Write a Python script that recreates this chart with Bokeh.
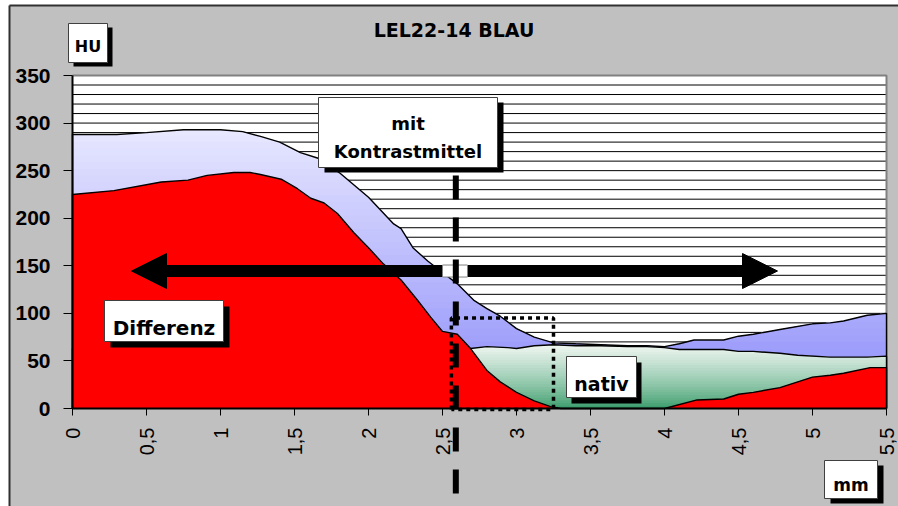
import math
import numpy as np
from bokeh.plotting import figure
from bokeh.models import Range1d, FixedTicker, CustomJSTickFormatter, Label
from bokeh.embed import file_html
from bokeh.resources import INLINE

# Profile along the vessel: distance (mm) and Hounsfield units
mit_mm = [0, 0.3, 0.5, 0.75, 1.0, 1.15, 1.27, 1.4, 1.54, 1.66,
          1.81, 2.0, 2.17, 2.22, 2.3, 2.4, 2.5, 2.6, 2.71, 2.8,
          2.89, 3.0, 3.12, 3.25, 3.4, 3.57, 3.75, 3.88, 4.0, 4.1,
          4.2, 4.4, 4.5, 4.6, 4.78, 5.0, 5.12, 5.21, 5.37, 5.5]
mit_hu = [288, 288, 290, 293, 293, 291, 286, 280, 269, 263,
          247, 222, 194, 189, 169, 155, 143, 131, 114, 105,
          97, 84, 75, 69, 68, 67, 66, 66, 65, 68,
          72, 72, 76, 78, 83, 89, 90, 92, 98, 100]

nativ_mm = [0, 0.5, 1.0, 1.5, 2.0, 2.5, 2.69, 2.8, 2.94, 3.0,
            3.12, 3.25, 3.4, 3.57, 3.75, 3.88, 4.0, 4.1, 4.4, 4.5,
            4.6, 4.78, 4.9, 5.12, 5.37, 5.5]
nativ_hu = [63, 52, 48, 38, 53, 62, 63, 65, 64, 63,
            66, 67, 66, 66, 65, 65, 64, 62, 62, 60,
            60, 58, 56, 54, 54, 55]

diff_mm = [0, 0.28, 0.6, 0.78, 0.91, 1.09, 1.2, 1.27, 1.41, 1.52,
           1.61, 1.70, 1.79, 1.90, 2.0, 2.1, 2.22, 2.33, 2.42, 2.5,
           2.6, 2.69, 2.8, 2.89, 3.0, 3.12, 3.23, 3.3, 4.0, 4.22,
           4.4, 4.5, 4.6, 4.78, 5.0, 5.12, 5.21, 5.39, 5.5]
diff_hu = [225, 229, 238, 240, 245, 248, 248, 246, 241, 231,
           221, 216, 205, 185, 169, 152, 135, 114, 96, 81,
           78, 63, 40, 28, 17, 8, 2, 0, 0, 9,
           10, 15, 17, 22, 33, 35, 37, 43, 43]

x_ticks = [0, 0.5, 1, 1.5, 2, 2.5, 3, 3.5, 4, 4.5, 5, 5.5]
y_ticks = [0, 50, 100, 150, 200, 250, 300, 350]
grid_hu = list(range(10, 350, 10))

# window region marked on the profile
window_mm = (2.56, 3.25)
window_hu = (-1, 95)
marker_mm = 2.59
arrow_hu = 144.5

# canvas geometry: pixel <-> data
W, H = 898, 506
X0, PX_MM = 72, 148.0
Y0, PX_HU = 408, 333 / 350


def mx(px):
    return (px - X0) / PX_MM


def hy(py):
    return (Y0 - py) / PX_HU


def refine(xs, ys, levels):
    """Add the points where the polyline crosses each level."""
    ox, oy = [xs[0]], [ys[0]]
    for i in range(len(xs) - 1):
        x0, y0, x1, y1 = xs[i], ys[i], xs[i + 1], ys[i + 1]
        cuts = []
        for lv in levels:
            if (y0 - lv) * (y1 - lv) < 0:
                t = (lv - y0) / (y1 - y0)
                cuts.append((t, x0 + t * (x1 - x0), lv))
        cuts.sort()
        for _, cx, cy in cuts:
            ox.append(cx)
            oy.append(cy)
        ox.append(x1)
        oy.append(y1)
    return np.array(ox, float), np.array(oy, float)


def mix(c0, c1, t):
    return "#%02x%02x%02x" % tuple(int(round(a + (b - a) * t)) for a, b in zip(c0, c1))


def gradient_area(p, xs, ys, top, n, c_bottom, c_top, gamma=1.0):
    levels = np.linspace(0, top, n + 1)
    rx, ry = refine(xs, ys, levels[1:-1])
    for k in range(n - 1, -1, -1):
        hi = levels[k + 1]
        t = ((k + 0.5) / n) ** gamma
        p.varea(x=rx, y1=np.zeros_like(ry), y2=np.minimum(ry, hi),
                fill_color=mix(c_bottom, c_top, t), fill_alpha=1.0)


def outline(p, xs, ys):
    lx = [xs[0]] + list(xs) + [xs[-1]]
    ly = [0] + list(ys) + [0]
    p.line(lx, ly, line_color="black", line_width=1.4)


p = figure(width=W, height=H,
           x_range=Range1d(mx(0), mx(W)), y_range=Range1d(hy(H), hy(0)),
           output_backend="svg", toolbar_location=None, min_border=0,
           background_fill_color="white", border_fill_color="white",
           outline_line_color=None)
p.grid.visible = False

# gray chart panel with dark frame
p.quad(left=mx(9), right=mx(W + 5), bottom=hy(H + 5), top=hy(5),
       fill_color="#c0c0c0", line_color=None)
p.line([mx(9), mx(W + 5)], [hy(5), hy(5)], line_color="#303030", line_width=2)
p.line([mx(9), mx(9)], [hy(5), hy(H + 5)], line_color="#303030", line_width=2)

# plot area and horizontal grid
p.quad(left=0, right=5.5, bottom=0, top=350, fill_color="white", line_color=None)
p.segment(x0=0, y0=grid_hu, x1=5.5, y1=grid_hu, line_color="black", line_width=1)
p.line([0, 5.5, 5.5], [350, 350, 0], line_color="#808080", line_width=2)

# areas: with contrast agent, native, difference
gradient_area(p, mit_mm, mit_hu, 294, 42, (138, 138, 250), (232, 232, 255))
outline(p, mit_mm, mit_hu)
gradient_area(p, nativ_mm, nativ_hu, 68, 24, (51, 153, 102), (242, 247, 243), gamma=0.75)
outline(p, nativ_mm, nativ_hu)
p.varea(x=diff_mm, y1=[0] * len(diff_mm), y2=diff_hu, fill_color="#ff0000")
outline(p, diff_mm, diff_hu)

# dotted window
wx0, wx1 = window_mm
wy0, wy1 = window_hu
p.line([wx0, wx0, wx1, wx1, wx0], [wy0, wy1, wy1, wy0, wy0],
       line_color="black", line_width=3.5, line_dash="4 4", line_cap="butt")

# double arrow
half = 6 / PX_HU
head = 17.5 / PX_HU
p.quad(left=mx(166), right=mx(442), bottom=arrow_hu - half, top=arrow_hu + half,
       fill_color="black", line_color=None)
p.quad(left=mx(467), right=mx(742), bottom=arrow_hu - half, top=arrow_hu + half,
       fill_color="black", line_color=None)
p.patches(xs=[[mx(131), mx(166), mx(166)], [mx(777), mx(742), mx(742)]],
          ys=[[arrow_hu, arrow_hu + head, arrow_hu - head]] * 2,
          fill_color="black", line_color="black", line_width=1)
p.quad(left=mx(442), right=mx(467), bottom=arrow_hu - half, top=arrow_hu + half,
       fill_color="white", line_color="#808080", line_width=1)

# dashed marker line
p.line([marker_mm, marker_mm], [hy(175), hy(496)], line_color="black",
       line_width=6, line_dash="24 18", line_cap="butt")

# axes
xa = p.xaxis[0]
xa.fixed_location = 0
xa.bounds = (0, 5.5)
xa.ticker = FixedTicker(ticks=x_ticks, minor_ticks=[])
xa.formatter = CustomJSTickFormatter(code="return String(tick).replace('.', ',')")
xa.major_label_orientation = math.pi / 2
xa.major_tick_out = 7
xa.major_tick_in = 0
xa.major_label_standoff = 12
xa.axis_line_color = "black"
xa.axis_line_width = 2
xa.major_tick_line_color = "black"
xa.major_label_text_font = "Liberation Sans"
xa.major_label_text_font_size = "20px"
xa.major_label_text_color = "black"

ya = p.yaxis[0]
ya.fixed_location = 0
ya.bounds = (0, 350)
ya.ticker = FixedTicker(ticks=y_ticks, minor_ticks=[])
ya.major_tick_out = 9
ya.major_tick_in = 0
ya.major_label_standoff = 13
ya.axis_line_color = "black"
ya.axis_line_width = 2
ya.major_tick_line_color = "black"
ya.major_label_text_font = "Liberation Sans"
ya.major_label_text_font_style = "bold"
ya.major_label_text_font_size = "21px"
ya.major_label_text_color = "black"


def text_box(left, top, right, bottom, dxs, dys):
    p.quad(left=mx(left + dxs), right=mx(right + dxs), top=hy(top + dys),
           bottom=hy(bottom + dys), fill_color="black", line_color=None)
    p.quad(left=mx(left), right=mx(right), top=hy(top), bottom=hy(bottom),
           fill_color="white", line_color="#404040", line_width=1)


def text(px, py, s, size):
    p.add_layout(Label(x=mx(px), y=hy(py), text=s, text_align="center",
                       text_baseline="alphabetic", text_font="DejaVu Sans",
                       text_font_style="bold", text_font_size=size,
                       text_color="black"))


text_box(68, 23, 107, 62, 5, 4)
text(87.5, 46, "HU", "16px")
text_box(318, 97, 497, 167, 6, 5)
text(407.5, 123, "mit", "18px")
text(407.5, 151, "Kontrastmittel", "18px")
text_box(104, 300, 223, 341, 6, 6)
text(163.5, 327, "Differenz", "20px")
text_box(566, 356, 636, 397, 5, 6)
text(601, 383, "nativ", "19px")
text_box(824, 460, 877, 498, 6, 5)
text(850.5, 484, "mm", "17px")

text(453.5, 29.5, "LEL22-14 BLAU", "19px")

open("out.html", "w").write(file_html(p, INLINE))
